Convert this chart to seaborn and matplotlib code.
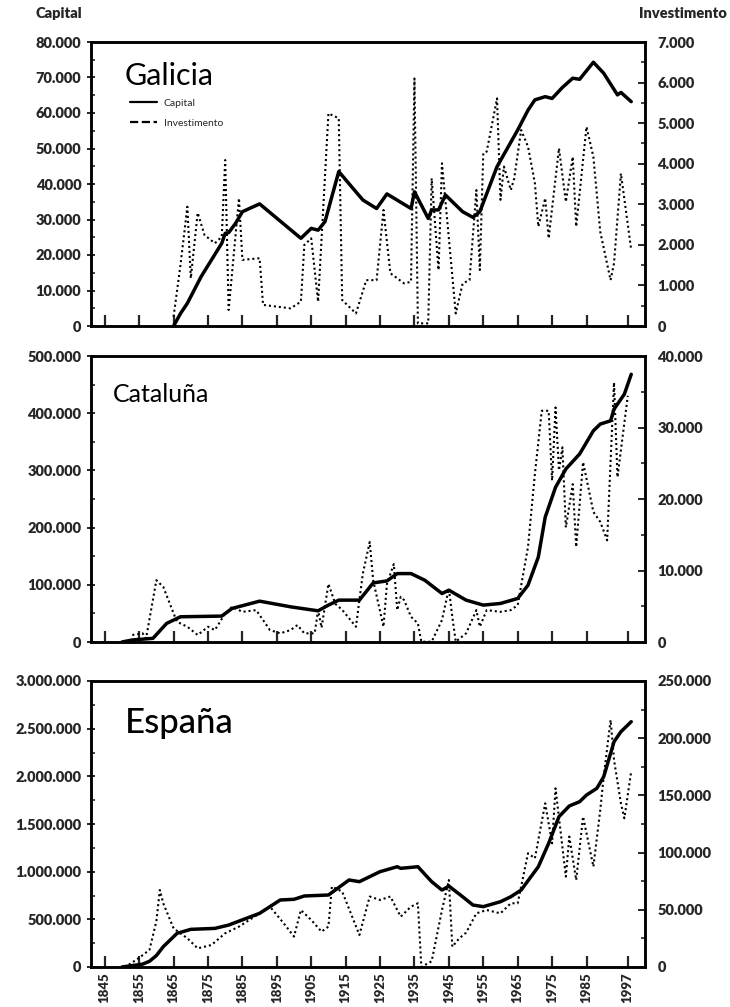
import matplotlib
matplotlib.use("Agg")
import matplotlib.pyplot as plt
from matplotlib.ticker import FuncFormatter, MultipleLocator, FixedLocator
from matplotlib.lines import Line2D
from matplotlib.font_manager import FontProperties
import seaborn as sns
import pandas as pd

sns.set_style("ticks")
plt.rcParams['font.family'] = ['Lato', 'DejaVu Sans']

# ---------------- data ----------------
gal_cap_years = [1865, 1867, 1869, 1873, 1879, 1880, 1881, 1883, 1885, 1890, 1902, 1905, 1907, 1909,
                 1913, 1920, 1924, 1927, 1934, 1935, 1939, 1940, 1942, 1944, 1949, 1952, 1954, 1959,
                 1965, 1968, 1970, 1973, 1975, 1978, 1981, 1983, 1987, 1990, 1994, 1995, 1998]
gal_cap = [0, 3500, 6400, 13900, 23300, 26100, 26300, 28900, 32200, 34400, 24700, 27500, 27000, 29400,
           43500, 35500, 33100, 37200, 33100, 37800, 30300, 32700, 32700, 36900, 32200, 30600, 32200, 44900,
           55200, 60800, 63700, 64600, 64100, 67200, 69800, 69500, 74300, 71200, 65100, 65800, 63200]

gal_inv_years = [1865, 1867, 1869, 1870, 1872, 1874, 1877, 1879, 1880, 1881, 1884, 1885, 1890, 1891,
                 1899, 1902, 1903, 1905, 1907, 1910, 1913, 1914, 1918, 1921, 1924, 1926, 1928, 1932,
                 1934, 1935, 1936, 1939, 1940, 1942, 1943, 1947, 1949, 1951, 1953, 1954, 1955, 1956,
                 1959, 1960, 1961, 1963, 1964, 1966, 1968, 1970, 1971, 1973, 1974, 1977, 1979, 1981,
                 1982, 1985, 1987, 1989, 1992, 1993, 1995, 1998]
gal_inv = [230, 1500, 2940, 1175, 2790, 2240, 2040, 2200, 4090, 395, 3150, 1630, 1670, 520,
           435, 600, 2000, 2160, 600, 5240, 5120, 640, 310, 1130, 1130, 2860, 1300, 1050,
           1090, 6100, 65, 65, 3640, 1380, 4010, 310, 1050, 1130, 3350, 1380, 4260, 4300,
           5610, 3110, 3930, 3350, 3640, 4830, 4420, 3520, 2450, 3150, 2160, 4380, 3060, 4170,
           2450, 4910, 4170, 2320, 1130, 1545, 3760, 1870]

cat_cap_years = [1850, 1853, 1859, 1863, 1867, 1879, 1882, 1890, 1899, 1907, 1910, 1913, 1919, 1923,
                 1927, 1930, 1934, 1938, 1943, 1945, 1950, 1955, 1960, 1965, 1968, 1971, 1973, 1976,
                 1979, 1983, 1987, 1989, 1992, 1993, 1996, 1998]
cat_cap = [0, 3500, 6400, 32600, 44100, 45300, 58700, 71400, 61500, 54500, 64500, 73200, 73200, 103300,
           106800, 119600, 119600, 108000, 84800, 90600, 73200, 64500, 67400, 76100, 99300, 148600, 218300, 270500,
           302500, 328700, 369300, 381000, 386700, 407100, 433300, 468000]

cat_inv_years = [1853, 1856, 1857, 1860, 1862, 1865, 1866, 1869, 1872, 1875, 1877, 1880, 1882, 1885,
                 1889, 1893, 1896, 1899, 1901, 1903, 1906, 1907, 1908, 1910, 1912, 1914, 1918, 1920,
                 1922, 1923, 1926, 1927, 1929, 1930, 1931, 1932, 1934, 1936, 1937, 1940, 1943, 1945,
                 1946, 1947, 1950, 1953, 1954, 1956, 1960, 1963, 1965, 1968, 1970, 1972, 1974, 1975,
                 1976, 1977, 1978, 1979, 1981, 1982, 1984, 1987, 1989, 1991, 1993, 1994, 1997]
cat_inv = [980, 1210, 500, 8640, 7710, 4000, 2830, 2130, 980, 2130, 1670, 4000, 4920, 4220,
           4460, 1670, 1210, 1670, 2370, 1210, 1210, 4460, 2000, 8130, 5340, 4500, 2130, 9570,
           13980, 8640, 2130, 8130, 10900, 4460, 6320, 5850, 3530, 2600, 40, 40, 3070, 7480,
           3530, 40, 1210, 4460, 2130, 4460, 4220, 4460, 5160, 13290, 23510, 32340, 32340, 22580,
           32800, 24000, 27230, 16030, 22070, 13290, 25160, 18190, 16800, 14220, 36290, 23050, 34430]

esp_cap_years = [1850, 1856, 1858, 1860, 1862, 1866, 1870, 1877, 1881, 1890, 1896, 1900, 1903, 1910,
                 1916, 1919, 1925, 1930, 1931, 1936, 1940, 1943, 1945, 1949, 1952, 1955, 1960, 1963,
                 1966, 1971, 1974, 1977, 1980, 1983, 1985, 1988, 1990, 1993, 1995, 1998]
esp_cap = [0, 30000, 60000, 120000, 213000, 353000, 395000, 405000, 440000, 563000, 703000, 710000, 745000, 755000,
           913000, 895000, 1000000, 1052000, 1035000, 1052000, 895000, 807000, 849000, 737000, 650000, 633000, 685000, 737000,
           807000, 1052000, 1297000, 1577000, 1689000, 1734000, 1804000, 1874000, 1996000, 2363000, 2468000, 2573000]

esp_inv_years = [1852, 1855, 1858, 1860, 1861, 1862, 1865, 1869, 1872, 1876, 1880, 1884, 1890, 1893,
                 1897, 1900, 1902, 1905, 1908, 1910, 1911, 1914, 1919, 1922, 1925, 1928, 1931, 1934,
                 1936, 1937, 1940, 1943, 1945, 1946, 1948, 1950, 1953, 1956, 1960, 1963, 1965, 1968,
                 1970, 1973, 1975, 1976, 1979, 1980, 1982, 1984, 1987, 1989, 1990, 1992, 1993, 1995,
                 1996, 1998]
esp_inv = [2000, 8000, 15000, 40000, 67300, 55700, 33800, 25100, 16300, 19200, 29500, 35300, 46900, 52800,
           38200, 26600, 49800, 41100, 30900, 35300, 70300, 65900, 28000, 61600, 58600, 61600, 44000, 52800,
           55700, 0, 5000, 49800, 76000, 17700, 25000, 30000, 46900, 49800, 46900, 55700, 55700, 99400,
           95000, 143100, 108100, 156200, 79000, 114000, 76000, 131500, 87700, 137300, 166400, 215900, 181000, 143100,
           130000, 171300]

regions = ["Galicia", "Cataluña", "España"]
xtick_years = [1845, 1855, 1865, 1875, 1885, 1895, 1905, 1915, 1925, 1935, 1945, 1955, 1965, 1975, 1985, 1997]

# ---------------- figure ----------------
fig = plt.figure(figsize=(7.30, 10.07), dpi=100)
W, H = 730, 1007
left_px, right_px = 91, 645
panels_px = [(42, 326), (356, 642), (681, 967)]

series = [
    (gal_cap_years, gal_cap, gal_inv_years, gal_inv, 80000, 10000, 5000, 7000, 1000, 500, 22, 0.061, 0.85),
    (cat_cap_years, cat_cap, cat_inv_years, cat_inv, 500000, 100000, 50000, 40000, 10000, 5000, 18, 0.040, 0.84),
    (esp_cap_years, esp_cap, esp_inv_years, esp_inv, 3000000, 500000, 250000, 250000, 50000, 25000, 25, 0.061, 0.817),
]

fmt = FuncFormatter(lambda v, p: f"{int(round(v)):,}".replace(",", "."))
tickfp = FontProperties(family=['Lato', 'DejaVu Sans'], weight='heavy', size=10.5)
xtickfp = FontProperties(family=['Lato', 'DejaVu Sans'], weight='heavy', size=9.5)

for i, (top, bot) in enumerate(panels_px):
    cy, cv, iy, iv, lmax, lmaj, lmin, rmax, rmaj, rmin, tsize, tx, ty = series[i]
    ax = fig.add_axes([left_px / W, 1 - bot / H, (right_px - left_px) / W, (bot - top) / H])
    ax2 = ax.twinx()

    dcap = pd.DataFrame({"year": cy, "value": cv})
    dinv = pd.DataFrame({"year": iy, "value": iv})
    sns.lineplot(data=dcap, x="year", y="value", ax=ax, color="black", lw=2.5, estimator=None)
    sns.lineplot(data=dinv, x="year", y="value", ax=ax2, color="black", lw=1.5, estimator=None,
                 dashes=False)
    ax2.lines[0].set_linestyle((0, (1, 1.4)))

    ax.set_xlim(1841, 2002)
    ax.set_ylim(0, lmax)
    ax2.set_ylim(0, rmax)
    ax.set_xlabel("")
    ax.set_ylabel("")
    ax2.set_ylabel("")

    ax.yaxis.set_major_locator(MultipleLocator(lmaj))
    ax.yaxis.set_minor_locator(MultipleLocator(lmin))
    ax2.yaxis.set_major_locator(MultipleLocator(rmaj))
    ax2.yaxis.set_minor_locator(MultipleLocator(rmin))
    ax.yaxis.set_major_formatter(fmt)
    ax2.yaxis.set_major_formatter(fmt)
    ax.xaxis.set_major_locator(FixedLocator(xtick_years))

    for a in (ax, ax2):
        for s in a.spines.values():
            s.set_linewidth(1.8)
            s.set_color("black")
            s.set_visible(True)

    ax.tick_params(axis='y', which='major', direction='inout', length=6, width=1.4, pad=4)
    ax.tick_params(axis='y', which='minor', direction='in', length=3, width=1.2)
    ax2.tick_params(axis='y', which='major', direction='in', length=5, width=1.4, pad=9)
    ax2.tick_params(axis='y', which='minor', direction='in', length=3, width=1.2)
    ax.tick_params(axis='x', which='major', direction='in', length=8, width=1.6, pad=4, top=False)

    for lab in ax.get_yticklabels() + ax2.get_yticklabels():
        lab.set_fontproperties(tickfp)

    if i < 2:
        ax.set_xticklabels([])
    else:
        ax.set_xticklabels([str(y) for y in xtick_years], rotation=90)
        for lab in ax.get_xticklabels():
            lab.set_fontproperties(xtickfp)

    ax.text(tx, ty, regions[i], transform=ax.transAxes, fontsize=tsize, va='baseline', ha='left',
            color='black', family=['Lato', 'DejaVu Sans'], weight='medium' if i == 2 else 'normal')

    if i == 0:
        handles = [Line2D([], [], color='black', lw=1.6, ls='-'),
                   Line2D([], [], color='black', lw=1.6, ls='--')]
        ax.legend(handles, ["Capital", "Investimento"], loc='upper left',
                  bbox_to_anchor=(0.062, 0.815), frameon=False, fontsize=7.5,
                  handlelength=2.6, handletextpad=0.7, labelspacing=1.0, borderaxespad=0)

fig.text(35 / W, 1 - 14 / H, "Capital", fontsize=10.5, weight='heavy', va='center', ha='left')
fig.text(727 / W, 1 - 14 / H, "Investimento", fontsize=10.5, weight='heavy', va='center', ha='right')

fig.savefig("out.png", dpi=100)
